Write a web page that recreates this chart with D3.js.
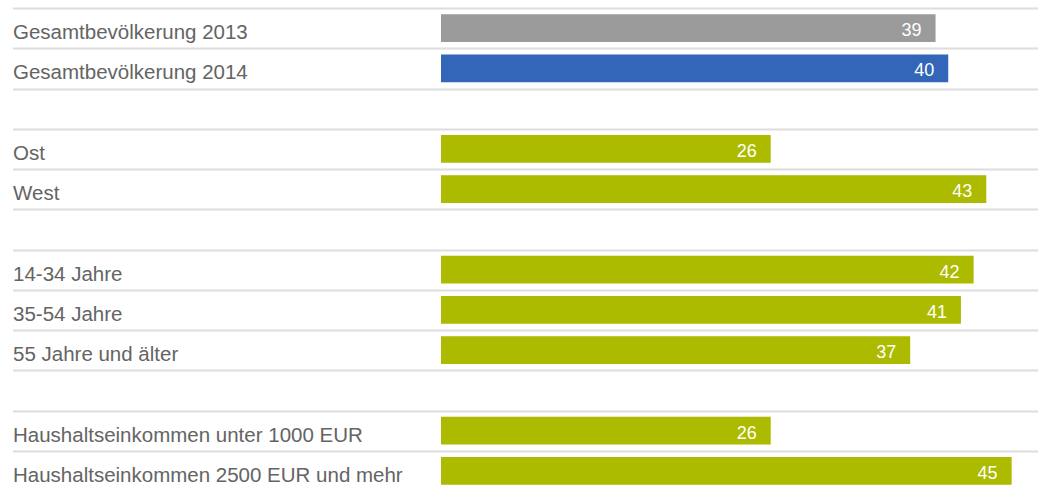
<!DOCTYPE html>
<html><head><meta charset="utf-8">
<script src="https://cdn.jsdelivr.net/npm/d3@7"></script>
<style>html,body{margin:0;padding:0;background:#fff;}svg{display:block;}</style>
</head><body>
<svg id="chart" width="1038" height="487"></svg>
<script>
// Data
const slots = ["Gesamtbevölkerung 2013", "Gesamtbevölkerung 2014", "gap1",
  "Ost", "West", "gap2",
  "14-34 Jahre", "35-54 Jahre", "55 Jahre und älter", "gap3",
  "Haushaltseinkommen unter 1000 EUR", "Haushaltseinkommen 2500 EUR und mehr"];
const categories = ["Gesamtbevölkerung 2013", "Gesamtbevölkerung 2014", "Ost", "West",
  "14-34 Jahre", "35-54 Jahre", "55 Jahre und älter",
  "Haushaltseinkommen unter 1000 EUR", "Haushaltseinkommen 2500 EUR und mehr"];
const values = [39, 40, 26, 43, 42, 41, 37, 26, 45];
const groups = ["y2013", "y2014", "sub", "sub", "sub", "sub", "sub", "sub", "sub"];

const colors = {y2013: "#9b9b9b", y2014: "#3366b9", sub: "#acbb00"};

const W = 1038, H = 487;
const svg = d3.select("#chart");

const x = d3.scaleLinear().domain([0, 47]).range([441, 1037]);
const y = d3.scaleBand().domain(slots).range([8, 491]).paddingInner(0.31).paddingOuter(0.155);
const step = y.step();

// grid lines at every slot boundary
const bounds = slots.map(s => y(s) - step * y.paddingInner() / 2);
bounds.push(bounds[bounds.length - 1] + step);
svg.append("g").selectAll("line").data(bounds).join("line")
  .attr("x1", 13).attr("x2", W)
  .attr("y1", d => Math.round(d) + 0.5).attr("y2", d => Math.round(d) + 0.5)
  .attr("stroke", "#dddddd").attr("stroke-width", 2);

const data = categories.map((c, i) => ({c, v: values[i], g: groups[i]}));

// labels
svg.append("g").selectAll("text").data(data).join("text")
  .attr("x", 13)
  .attr("y", d => y(d.c) + y.bandwidth() / 2 + 11)
  .attr("font-family", "Liberation Sans, Arial, sans-serif")
  .attr("font-size", 20.5)
  .attr("fill", "#646464")
  .text(d => d.c);

// bars
svg.append("g").selectAll("rect").data(data).join("rect")
  .attr("x", x(0))
  .attr("y", d => y(d.c))
  .attr("width", d => x(d.v) - x(0))
  .attr("height", y.bandwidth())
  .attr("fill", d => colors[d.g]);

// values
svg.append("g").selectAll("text").data(data).join("text")
  .attr("x", d => x(d.v) - 14)
  .attr("y", d => y(d.c) + y.bandwidth() / 2 + 8)
  .attr("text-anchor", "end")
  .attr("font-family", "Liberation Sans, Arial, sans-serif")
  .attr("font-size", 18)
  .attr("fill", "#ffffff")
  .text(d => d.v);
</script>
</body></html>
